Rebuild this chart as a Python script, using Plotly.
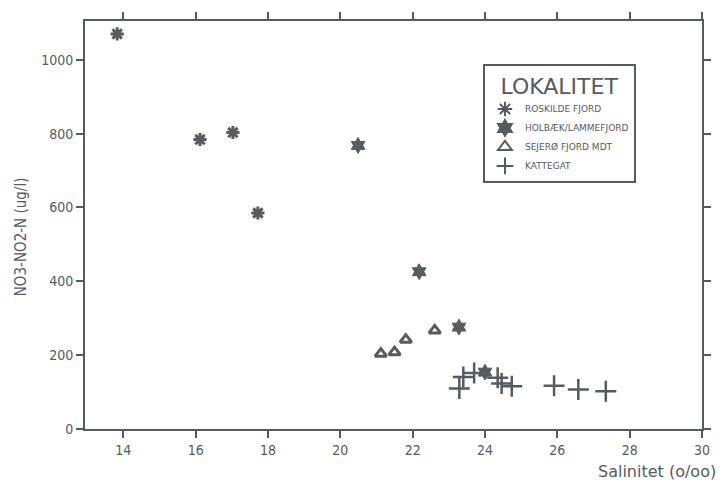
import plotly.graph_objects as go

# Data
roskilde_x = [13.83, 16.12, 17.03, 17.72]
roskilde_y = [1070, 784, 803, 585]

holbaek_x = [20.49, 22.18, 23.28, 24.0]
holbaek_y = [768, 426, 276, 154]

sejero_x = [21.12, 21.50, 21.81, 22.61]
sejero_y = [204, 208, 242, 267]

kattegat_x = [23.29, 23.40, 23.70, 24.35, 24.46, 24.74, 25.91, 26.58, 27.34]
kattegat_y = [110, 141, 152, 139, 123, 116, 117, 107, 102]

x_ticks = [14, 16, 18, 20, 22, 24, 26, 28, 30]
y_ticks = [0, 200, 400, 600, 800, 1000]

ink = "#565b5f"
font = "DejaVu Sans Condensed, DejaVu Sans, sans-serif"

fig = go.Figure()
fig.add_trace(go.Scatter(
    x=roskilde_x, y=roskilde_y, mode="markers", name="ROSKILDE FJORD",
    marker=dict(symbol="asterisk-open", size=11, color=ink, line=dict(color=ink, width=3))))
fig.add_trace(go.Scatter(
    x=holbaek_x, y=holbaek_y, mode="markers", name="HOLBÆK/LAMMEFJORD",
    marker=dict(symbol="hexagram-dot", size=12, color=ink, line=dict(color=ink, width=1))))
fig.add_trace(go.Scatter(
    x=sejero_x, y=sejero_y, mode="markers", name="SEJERØ FJORD MDT",
    marker=dict(symbol="triangle-up-open", size=10, color=ink, line=dict(color=ink, width=3))))
fig.add_trace(go.Scatter(
    x=kattegat_x, y=kattegat_y, mode="markers", name="KATTEGAT",
    marker=dict(symbol="cross-thin-open", size=15, color=ink, line=dict(color=ink, width=2.5))))

axis_common = dict(
    showline=True, linecolor=ink, linewidth=2, mirror="ticks",
    ticks="outside", ticklen=7, tickwidth=2, tickcolor=ink,
    showgrid=False, zeroline=False,
    tickfont=dict(family=font, size=14, color=ink),
)

fig.update_xaxes(range=[12.94, 30], tickvals=x_ticks, **axis_common)
fig.update_yaxes(range=[0, 1105], tickvals=y_ticks, **axis_common)

fig.add_annotation(
    text="Salinitet (o/oo)", xref="paper", yref="paper", x=1.026, y=0,
    xanchor="right", yanchor="middle", yshift=-42, showarrow=False,
    font=dict(family="DejaVu Sans, sans-serif", size=16, color=ink))
fig.add_annotation(
    text="NO3-NO2-N (ug/l)", xref="paper", yref="paper", x=0, y=0.47,
    xanchor="center", yanchor="middle", xshift=-64, textangle=-90, showarrow=False,
    font=dict(family=font, size=15, color=ink))

fig.update_layout(
    width=726, height=482,
    margin=dict(l=85, r=24, t=19, b=53),
    paper_bgcolor="white", plot_bgcolor="white",
    showlegend=True,
    legend=dict(
        x=0.645, y=0.895, xanchor="left", yanchor="top",
        bgcolor="white", bordercolor=ink, borderwidth=2,
        title=dict(text="LOKALITET", side="top center",
                   font=dict(family="DejaVu Sans, sans-serif", size=22, color=ink)),
        font=dict(family="DejaVu Sans, sans-serif", size=9, color=ink),
        itemsizing="constant", tracegroupgap=0, itemwidth=30,
    ),
)

fig.write_html("out.html")
